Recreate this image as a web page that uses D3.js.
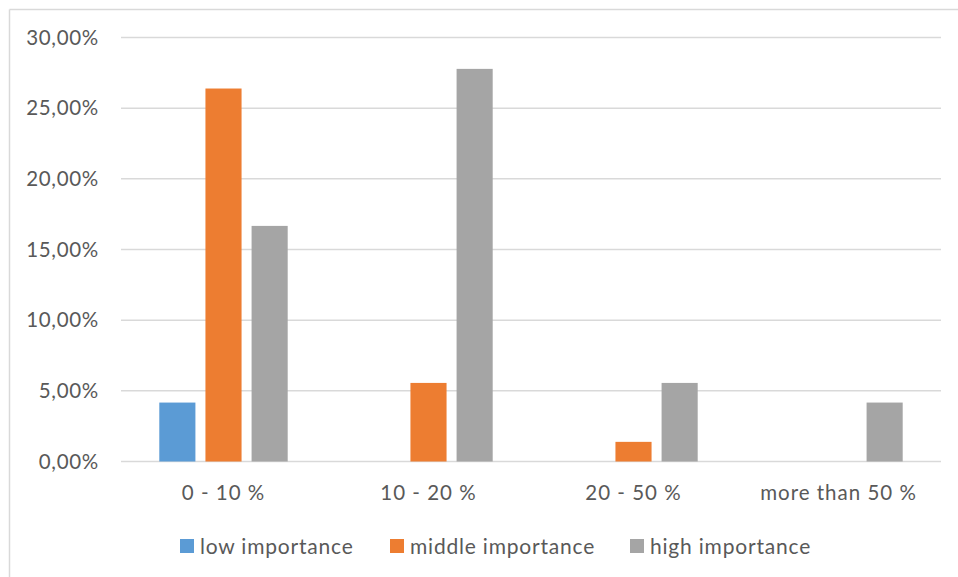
<!DOCTYPE html>
<html>
<head>
<meta charset="utf-8">
<script src="https://cdn.jsdelivr.net/npm/d3@7"></script>
<style>
  html, body { margin: 0; padding: 0; background: #fff; }
  svg { display: block; }
  text { font-family: Lato, "Liberation Sans", sans-serif; fill: #595959; }
</style>
</head>
<body>
<svg id="chart" width="958" height="577"></svg>
<script>
// Share of responses per savings band, split by importance rating
const categories = ["0 - 10 %", "10 - 20 %", "20 - 50 %", "more than 50 %"];
const seriesNames = ["low importance", "middle importance", "high importance"];
const lowImportance    = [4.17, 0, 0, 0];
const middleImportance = [26.39, 5.56, 1.39, 0];
const highImportance   = [16.67, 27.78, 5.56, 4.17];
const yTicks = [0, 5, 10, 15, 20, 25, 30];
const colors = ["#5B9BD5", "#ED7D31", "#A5A5A5"];

const seriesValues = [lowImportance, middleImportance, highImportance];

const svg = d3.select("#chart");
const W = 958, H = 577;
const FONT = "Lato, 'Liberation Sans', sans-serif";

// frame edges (top and left)
svg.append("line").attr("x1", 9.5).attr("x2", W).attr("y1", 9.5).attr("y2", 9.5)
  .attr("stroke", "#D9D9D9").attr("stroke-width", 1.5);
svg.append("line").attr("x1", 9.5).attr("x2", 9.5).attr("y1", 9.5).attr("y2", H)
  .attr("stroke", "#D9D9D9").attr("stroke-width", 1.5);

const plot = { left: 121, right: 941, top: 37.5, bottom: 461.5 };

const y = d3.scaleLinear().domain([0, 30]).range([plot.bottom, plot.top]);
const x0 = d3.scaleBand().domain(categories).range([plot.left, plot.right]).padding(0);
const x1 = d3.scaleBand().domain(seriesNames).range([0, x0.bandwidth()])
  .paddingInner(10 / 46).paddingOuter(0.83);

// horizontal gridlines
svg.append("g").selectAll("line").data(yTicks).join("line")
  .attr("x1", plot.left).attr("x2", plot.right)
  .attr("y1", d => y(d)).attr("y2", d => y(d))
  .attr("stroke", "#D9D9D9").attr("stroke-width", 1.5);

// y axis labels
const yAxis = d3.axisLeft(y).tickValues(yTicks)
  .tickFormat(d => d3.format(".2f")(d).replace(".", ",") + "%")
  .tickSize(0).tickPadding(0);
const gy = svg.append("g").attr("transform", `translate(99,0)`).call(yAxis);
gy.select(".domain").remove();
gy.selectAll("text").attr("font-size", 20.5).attr("fill", "#595959")
  .style("letter-spacing", "0.7px").style("font-family", FONT);

// bars
const rows = categories.map((c, i) => ({ cat: c, vals: seriesNames.map((s, j) => ({ s, j, v: seriesValues[j][i] })) }));
svg.append("g").selectAll("g").data(rows).join("g")
  .attr("transform", d => `translate(${x0(d.cat)},0)`)
  .selectAll("rect").data(d => d.vals.filter(e => e.v > 0)).join("rect")
  .attr("x", d => x1(d.s))
  .attr("width", x1.bandwidth())
  .attr("y", d => y(d.v))
  .attr("height", d => y(0) - y(d.v))
  .attr("fill", d => colors[d.j]);

// x axis labels
const xAxis = d3.axisBottom(x0).tickSize(0).tickPadding(0);
const gx = svg.append("g").attr("transform", `translate(0,${plot.bottom + 24})`).call(xAxis);
gx.select(".domain").remove();
gx.selectAll("text").attr("font-size", 20.5).attr("fill", "#595959").attr("dy", "0.71em")
  .style("letter-spacing", "1px").style("font-family", FONT);

// legend
const legendX = [180, 390, 630];
const leg = svg.append("g").selectAll("g").data(seriesNames).join("g")
  .attr("transform", (d, i) => `translate(${legendX[i]},539)`);
leg.append("rect").attr("width", 14).attr("height", 14).attr("fill", (d, i) => colors[i]);
leg.append("text").attr("x", 20).attr("y", 14.5).attr("font-size", 21)
  .style("letter-spacing", "0.8px").text(d => d);
</script>
</body>
</html>
